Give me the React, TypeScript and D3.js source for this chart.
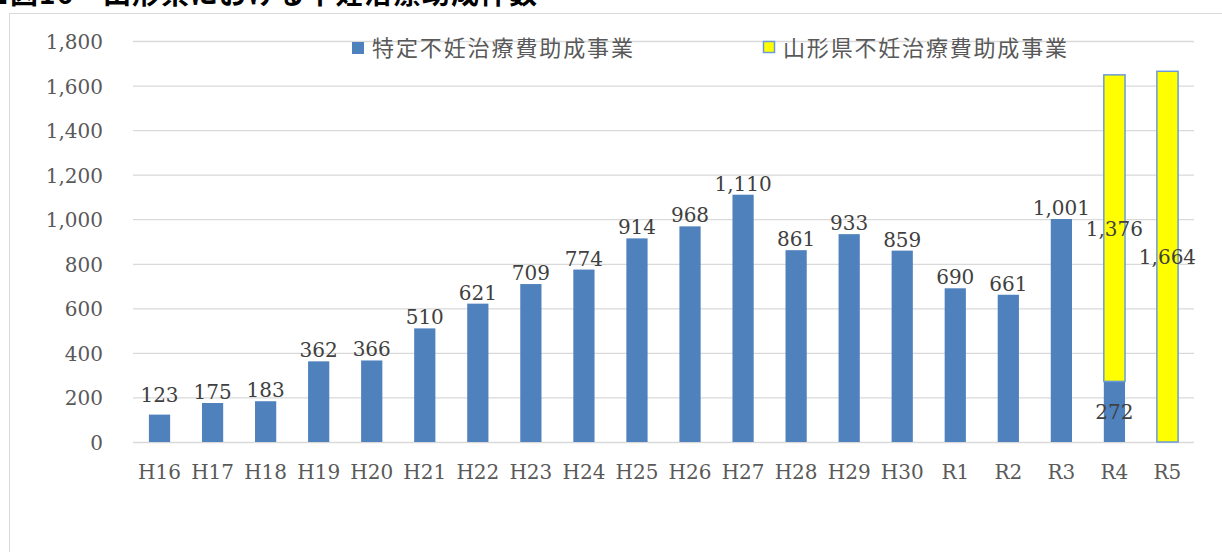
import { useEffect, useRef } from "react";
import * as d3 from "d3";

const categories = ["H16", "H17", "H18", "H19", "H20", "H21", "H22", "H23", "H24", "H25",
  "H26", "H27", "H28", "H29", "H30", "R1", "R2", "R3", "R4", "R5"];
// 特定不妊治療費助成事業
const tokuteiValues = [123, 175, 183, 362, 366, 510, 621, 709, 774, 914,
  968, 1110, 861, 933, 859, 690, 661, 1001, 272, null];
// 山形県不妊治療費助成事業
const yamagataValues = [null, null, null, null, null, null, null, null, null, null,
  null, null, null, null, null, null, null, null, 1376, 1664];
const yTicks = [0, 200, 400, 600, 800, 1000, 1200, 1400, 1600, 1800];
const seriesNames = ["特定不妊治療費助成事業", "山形県不妊治療費助成事業"];
const title = "■図16　山形県における不妊治療助成件数";

const W = 1222;
const H = 552;
const PLOT = { left: 133, right: 1194, top: 41, bottom: 442 };

const BLUE = "#4F81BD";
const YELLOW = "#FFFF00";
const YELLOW_EDGE = "#6A9BD8";
const GRID = "#d9d9d9";
const SERIF = "'DejaVu Serif', serif";
const JP = "'Noto Sans CJK JP', sans-serif";

export default function App() {
  const svgRef = useRef<SVGSVGElement>(null);

  useEffect(() => {
    if (!svgRef.current) return;
    const svg = d3.select(svgRef.current);
    svg.selectAll("*").remove();

    const x = d3.scaleBand<string>()
      .domain(categories)
      .range([PLOT.left, PLOT.right])
      .paddingInner(0.6)
      .paddingOuter(0.3);
    const y = d3.scaleLinear().domain([0, 1800]).range([PLOT.bottom, PLOT.top]);
    const fmt = d3.format(",");

    // chart frame
    svg.append("rect")
      .attr("x", 9.5).attr("y", 13.5)
      .attr("width", W).attr("height", H)
      .attr("fill", "#fff").attr("stroke", GRID);

    // title (clipped by the top of the image)
    svg.append("text")
      .attr("x", -19).attr("y", 4)
      .attr("font-family", JP).attr("font-size", 28).attr("font-weight", 700)
      .attr("fill", "#000")
      .attr("textLength", 556).attr("lengthAdjust", "spacing")
      .text(title);

    // grid
    svg.append("g").selectAll("line")
      .data(yTicks)
      .join("line")
      .attr("x1", PLOT.left).attr("x2", PLOT.right)
      .attr("y1", d => y(d) + 0.5).attr("y2", d => y(d) + 0.5)
      .attr("stroke", GRID).attr("stroke-width", 1.3);

    // y labels
    svg.append("g").selectAll("text")
      .data(yTicks)
      .join("text")
      .attr("x", 103).attr("y", d => y(d) + 8)
      .attr("text-anchor", "end")
      .attr("font-family", SERIF).attr("font-size", 20).attr("fill", "#595959")
      .text(d => fmt(d));

    // x labels
    svg.append("g").selectAll("text")
      .data(categories)
      .join("text")
      .attr("x", d => x(d)! + x.bandwidth() / 2).attr("y", 479)
      .attr("text-anchor", "middle")
      .attr("font-family", SERIF).attr("font-size", 20).attr("fill", "#595959")
      .text(d => d);

    const rows = categories.map((c, i) => ({
      c,
      a: tokuteiValues[i],
      b: yamagataValues[i],
    }));

    // blue bars
    svg.append("g").selectAll("rect")
      .data(rows.filter(r => r.a != null))
      .join("rect")
      .attr("x", r => x(r.c)!).attr("width", x.bandwidth())
      .attr("y", r => y(r.a!)).attr("height", r => y(0) - y(r.a!))
      .attr("fill", BLUE);

    // yellow bars stacked on top
    svg.append("g").selectAll("rect")
      .data(rows.filter(r => r.b != null))
      .join("rect")
      .attr("x", r => x(r.c)!).attr("width", x.bandwidth())
      .attr("y", r => y((r.a ?? 0) + r.b!))
      .attr("height", r => y(r.a ?? 0) - y((r.a ?? 0) + r.b!))
      .attr("fill", YELLOW).attr("stroke", YELLOW_EDGE).attr("stroke-width", 1.5);

    // labels
    const lbl = svg.append("g")
      .attr("font-family", SERIF).attr("font-size", 20).attr("fill", "#404040")
      .attr("text-anchor", "middle");

    lbl.selectAll("text.a")
      .data(rows.filter(r => r.a != null))
      .join("text")
      .attr("class", "a")
      .attr("x", r => x(r.c)! + x.bandwidth() / 2)
      .attr("y", r => r.b != null ? (y(0) + y(r.a!)) / 2 + 7.5 : Math.min(y(r.a!) - 4, 402))
      .text(r => fmt(r.a!));

    lbl.selectAll("text.b")
      .data(rows.filter(r => r.b != null))
      .join("text")
      .attr("class", "b")
      .attr("x", r => x(r.c)! + x.bandwidth() / 2)
      .attr("y", r => (y(r.a ?? 0) + y((r.a ?? 0) + r.b!)) / 2 + 7.5)
      .text(r => fmt(r.b!));

    // legend
    const lg = svg.append("g");
    lg.append("rect")
      .attr("x", 352).attr("y", 42).attr("width", 12).attr("height", 12)
      .attr("fill", BLUE);
    lg.append("text")
      .attr("x", 372).attr("y", 56)
      .attr("font-family", JP).attr("font-size", 22).attr("fill", "#595959")
      .attr("textLength", 261).attr("lengthAdjust", "spacing")
      .text(seriesNames[0]);
    lg.append("rect")
      .attr("x", 763.5).attr("y", 41.5).attr("width", 11).attr("height", 11)
      .attr("fill", YELLOW).attr("stroke", YELLOW_EDGE).attr("stroke-width", 1.5);
    lg.append("text")
      .attr("x", 783).attr("y", 56)
      .attr("font-family", JP).attr("font-size", 22).attr("fill", "#595959")
      .attr("textLength", 284).attr("lengthAdjust", "spacing")
      .text(seriesNames[1]);
  }, []);

  return (
    <svg
      ref={svgRef}
      width={W}
      height={H}
      style={{ position: "absolute", left: 0, top: 0, display: "block", background: "#fff" }}
    />
  );
}
